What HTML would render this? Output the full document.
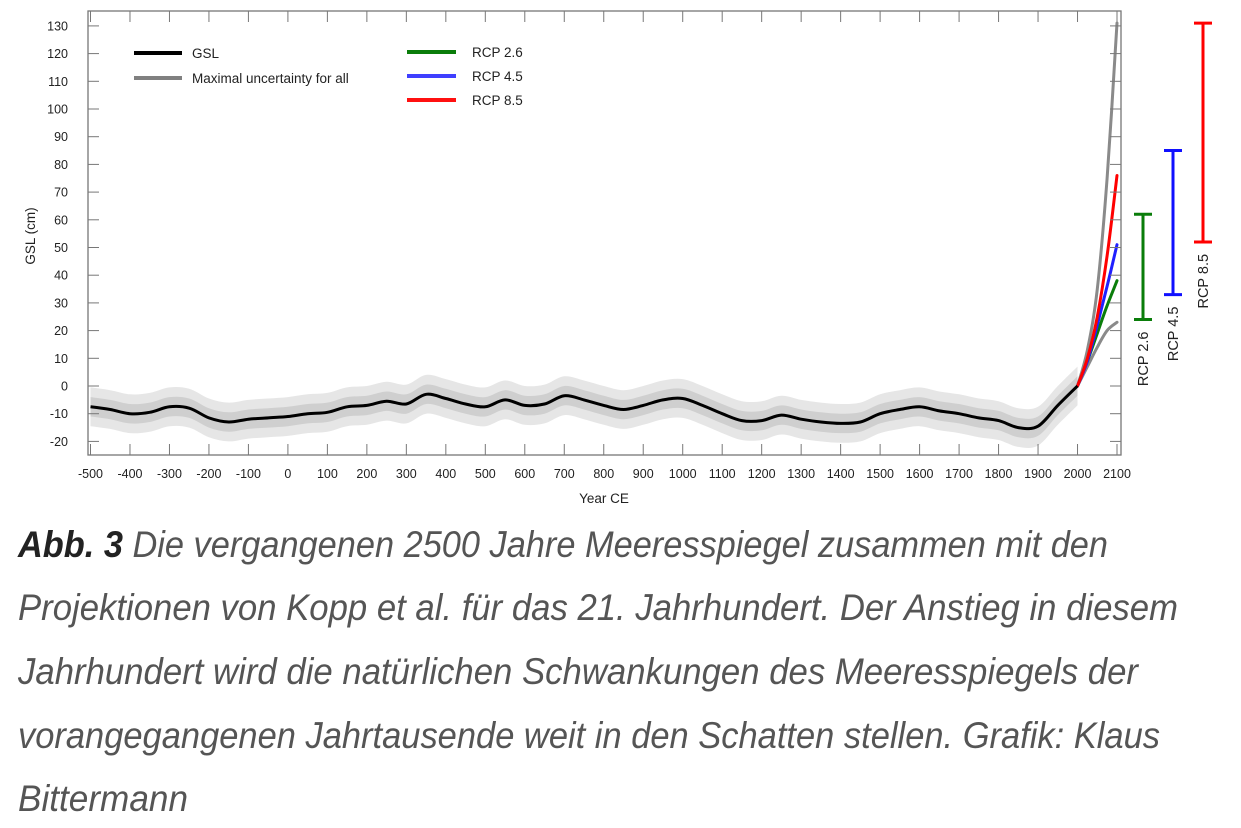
<!DOCTYPE html>
<html><head><meta charset="utf-8"><style>
html,body{margin:0;padding:0;background:#fff;width:1241px;height:828px;overflow:hidden}
svg{display:block;font-family:"Liberation Sans",sans-serif}
</style></head><body>
<svg id="chart" width="1241" height="828" viewBox="0 0 1241 828" xmlns="http://www.w3.org/2000/svg">
<g id="bands"></g>
<g id="proj"></g>
<g id="gsl"></g>
<rect x="88" y="11" width="1033" height="444" fill="none" stroke="#777" stroke-width="1.3"/>
<g id="axes" font-size="12.5" fill="#222"></g>
<text x="604" y="503" font-size="13.5" text-anchor="middle" fill="#222">Year CE</text>
<text transform="translate(35,236) rotate(-90)" font-size="13.5" text-anchor="middle" fill="#222">GSL (cm)</text>
<g font-size="13.5" fill="#222">
 <g><line x1="134" y1="53" x2="182" y2="53" stroke="#000" stroke-width="4"/><text x="192" y="58">GSL</text></g>
 <g><line x1="134" y1="78" x2="182" y2="78" stroke="#808080" stroke-width="4"/><text x="192" y="83">Maximal uncertainty for all</text></g>
 <g><line x1="407" y1="52" x2="456" y2="52" stroke="#0a7d0a" stroke-width="4"/><text x="472" y="57">RCP 2.6</text></g>
 <g><line x1="407" y1="76" x2="456" y2="76" stroke="#3f3fff" stroke-width="4"/><text x="472" y="81">RCP 4.5</text></g>
 <g><line x1="407" y1="100" x2="456" y2="100" stroke="#ff1010" stroke-width="4"/><text x="472" y="105">RCP 8.5</text></g>
</g>
<g id="ranges"></g>
<g font-size="37" font-style="italic" fill="#555">
 <text x="18" y="557" textLength="1090" lengthAdjust="spacingAndGlyphs"><tspan font-weight="bold" fill="#222">Abb. 3</tspan> Die vergangenen 2500 Jahre Meeresspiegel zusammen mit den</text>
 <text x="18" y="620" textLength="1160" lengthAdjust="spacingAndGlyphs">Projektionen von Kopp et al. für das 21. Jahrhundert. Der Anstieg in diesem</text>
 <text x="18" y="684" textLength="1120" lengthAdjust="spacingAndGlyphs">Jahrhundert wird die natürlichen Schwankungen des Meeresspiegels der</text>
 <text x="18" y="748" textLength="1142" lengthAdjust="spacingAndGlyphs">vorangegangenen Jahrtausende weit in den Schatten stellen. Grafik: Klaus</text>
 <text x="18" y="811" textLength="170" lengthAdjust="spacingAndGlyphs">Bittermann</text>
</g>
</svg>
<script>
const years = [-500,-450,-400,-350,-300,-250,-200,-150,-100,-50,0,50,100,150,200,250,300,350,400,450,500,550,600,650,700,750,800,850,900,950,1000,1050,1100,1150,1200,1250,1300,1350,1400,1450,1500,1550,1600,1650,1700,1750,1800,1850,1900,1950,2000];
const gsl = [-7.5,-8.5,-10,-9.5,-7.5,-8,-11.5,-13,-12,-11.5,-11,-10,-9.5,-7.5,-7,-5.5,-6.5,-3,-4.5,-6.5,-7.5,-5,-7,-6.5,-3.5,-5,-7,-8.5,-7,-5,-4.5,-7,-10,-12.5,-12.5,-10.5,-12,-13,-13.5,-13,-10,-8.5,-7.5,-9,-10,-11.5,-12.5,-15,-14.5,-7,0];
const innerUnc = 3.5;
const outerUnc = 7;
const projYears = [2000,2025,2050,2075,2100];
const upperUnc = [0,13,35,75,131];
const lowerUnc = [0,7,14,20,23];
const rcp26 = [0,9,19,29,38];
const rcp45 = [0,9,22,36,51];
const rcp85 = [0,10,25,47,76];
const rangeNames = ['RCP 2.6','RCP 4.5','RCP 8.5'];
const rangeLow = [24,33,52];
const rangeHigh = [62,85,131];
const xTicks = [-500,-400,-300,-200,-100,0,100,200,300,400,500,600,700,800,900,1000,1100,1200,1300,1400,1500,1600,1700,1800,1900,2000,2100];
const yTicks = [-20,-10,0,10,20,30,40,50,60,70,80,90,100,110,120,130];

const NS='http://www.w3.org/2000/svg';
const X = yr => 90.5 + (yr + 500) * (1117 - 90.5) / 2600;
const Y = v => 386 - v * 2.77;
function mk(tag, attrs, parent){const e=document.createElementNS(NS,tag);for(const k in attrs)e.setAttribute(k,attrs[k]);parent.appendChild(e);return e;}
function smooth(pts, move){
  let d=(move?'M':'L')+pts[0][0].toFixed(1)+','+pts[0][1].toFixed(1);
  for(let i=0;i<pts.length-1;i++){
    const p0=pts[Math.max(i-1,0)],p1=pts[i],p2=pts[i+1],p3=pts[Math.min(i+2,pts.length-1)];
    const c1=[p1[0]+(p2[0]-p0[0])/6,p1[1]+(p2[1]-p0[1])/6];
    const c2=[p2[0]-(p3[0]-p1[0])/6,p2[1]-(p3[1]-p1[1])/6];
    d+=` C${c1[0].toFixed(1)},${c1[1].toFixed(1)} ${c2[0].toFixed(1)},${c2[1].toFixed(1)} ${p2[0].toFixed(1)},${p2[1].toFixed(1)}`;
  }
  return d;
}
function pts(xs, vs, off){return xs.map((x,i)=>[X(x),Y(vs[i]+(off||0))]);}
function bandPath(dv){
  const up=pts(years,gsl,dv), lo=pts(years,gsl,-dv).reverse();
  return smooth(up,true)+' '+smooth(lo,false)+' Z';
}
const bands=document.getElementById('bands');
const ob=mk('path',{d:bandPath(outerUnc),fill:'#e6e6e6'},bands);


const ib=mk('path',{d:bandPath(innerUnc),fill:'#cfcfcf'},bands);



const proj=document.getElementById('proj');
const series=[[upperUnc,'#8a8a8a','upper-uncertainty-line'],[lowerUnc,'#8a8a8a','lower-uncertainty-line'],[rcp26,'#0a7d0a','rcp26-line'],[rcp45,'#2020ff','rcp45-line'],[rcp85,'#ff0000','rcp85-line']];
series.forEach(s=>{
  const p=mk('path',{d:smooth(pts(projYears,s[0]),true),fill:'none',stroke:s[1],'stroke-width':3,'stroke-linejoin':'round','stroke-linecap':'round'},proj);
  
  
});
const gl=mk('path',{d:smooth(pts(years,gsl),true),fill:'none',stroke:'#000','stroke-width':3,'stroke-linejoin':'round'},document.getElementById('gsl'));



const axes=document.getElementById('axes');
xTicks.forEach(t=>{
  const x=X(t);
  const tb=mk('line',{x1:x,y1:455,x2:x,y2:444,stroke:'#777','stroke-width':1},axes);
  
  
  const tt=mk('line',{x1:x,y1:11,x2:x,y2:22,stroke:'#777','stroke-width':1},axes);
  
  
  const lb=mk('text',{x:x,y:478,'text-anchor':'middle'},axes);
  lb.textContent=t;
  
  
});
yTicks.forEach(t=>{
  const y=Y(t);
  const tl=mk('line',{x1:88,y1:y,x2:99,y2:y,stroke:'#777','stroke-width':1},axes);
  
  
  const tr=mk('line',{x1:1121,y1:y,x2:1110,y2:y,stroke:'#777','stroke-width':1},axes);
  
  
  const lb=mk('text',{x:68,y:y+4.5,'text-anchor':'end'},axes);
  lb.textContent=t;
  
  
});

const ranges=document.getElementById('ranges');
const rColors=['#0a7d0a','#1010ff','#ff0000'];
const rNames=['rcp26-range','rcp45-range','rcp85-range'];
rangeNames.forEach((n,i)=>{
  const x=1143+i*30, y1=Y(rangeHigh[i]), y2=Y(rangeLow[i]);
  const g=mk('g',{stroke:rColors[i],'stroke-width':3},ranges);
  
  
  mk('line',{x1:x,y1:y1,x2:x,y2:y2},g);
  mk('line',{x1:x-9,y1:y1,x2:x+9,y2:y1},g);
  mk('line',{x1:x-9,y1:y2,x2:x+9,y2:y2},g);
  const t=mk('text',{transform:`translate(${x+5},${y2+12}) rotate(-90)`,'text-anchor':'end','font-size':'14.5',fill:'#222'},ranges);
  t.textContent=n;
  
  
});
</script>
</body></html>
